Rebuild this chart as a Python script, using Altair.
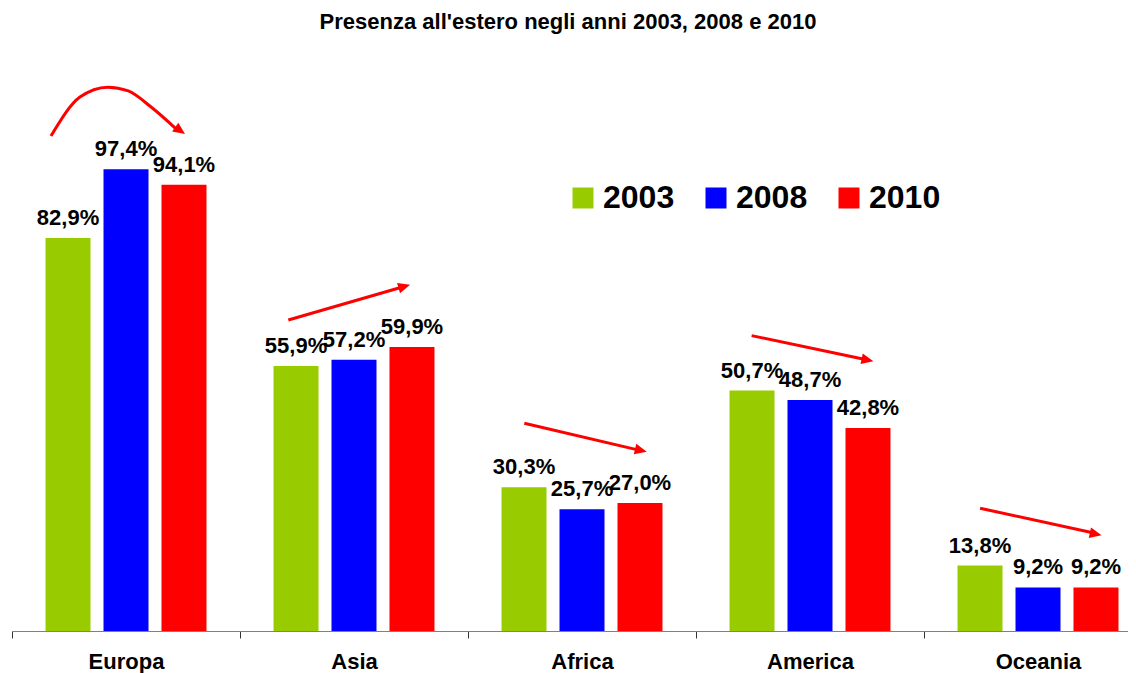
import altair as alt
import pandas as pd

# ---- data ----
categories = ["Europa", "Asia", "Africa", "America", "Oceania"]
years = ["2003", "2008", "2010"]
v2003 = [82.9, 55.9, 30.3, 50.7, 13.8]
v2008 = [97.4, 57.2, 25.7, 48.7, 9.2]
v2010 = [94.1, 59.9, 27.0, 42.8, 9.2]
colors = ["#99CC00", "#0000FF", "#FF0000"]

# trend arrows: position = category index + fraction of the group, value in %
arrow_ids = ["Europa", "Asia", "Africa", "America", "Oceania"]
arrow_line_pos = [
    [0.171, 0.298, 0.420, 0.510, 0.610, 0.724],
    [0.212, 0.716],
    [0.247, 0.754],
    [0.244, 0.748],
    [0.246, 0.750],
]
arrow_line_val = [
    [104.4, 112.6, 114.7, 113.9, 110.5, 105.7],
    [65.6, 72.6],
    [43.8, 38.1],
    [62.3, 57.2],
    [25.9, 20.6],
]
arrow_tip_pos = [0.759, 0.746, 0.784, 0.778, 0.779]
arrow_tip_val = [104.8, 73.0, 37.8, 56.9, 20.2]
arrow_tip_angle = [35, 344, 13, 12, 12]

FONT = "Liberation Sans"

# ---- tables ----
rows = []
for si, (yr, vals) in enumerate(zip(years, [v2003, v2008, v2010])):
    for ci, cat in enumerate(categories):
        rows.append({
            "cat": cat, "year": yr, "value": vals[ci],
            "label": f"{vals[ci]:.1f}".replace(".", ",") + "%",
        })
df = pd.DataFrame(rows)

line_rows = []
for ai, aid in enumerate(arrow_ids):
    for k, (p, v) in enumerate(zip(arrow_line_pos[ai], arrow_line_val[ai])):
        line_rows.append({"id": aid, "pos": ai + p, "value": v, "k": k})
df_lines = pd.DataFrame(line_rows)

df_heads = pd.DataFrame({
    "id": arrow_ids,
    "pos": [i + p for i, p in enumerate(arrow_tip_pos)],
    "value": arrow_tip_val,
    "angle": arrow_tip_angle,
})

xrange = [4, 1144]
yscale = alt.Scale(domain=[0, 120], nice=False)

x_axis = alt.Axis(
    title=None, labelAngle=0, labelFontSize=22, labelFontWeight="bold",
    labelColor="#000000", labelFont=FONT, domainColor="#808080", domainWidth=1,
    tickColor="#333333", tickSize=7, tickWidth=1, tickBand="extent",
    labelBaseline="alphabetic", labelPadding=30, grid=False,
)
x_enc = alt.X("cat:N", sort=categories,
              scale=alt.Scale(range=xrange, paddingInner=0, paddingOuter=0),
              axis=x_axis)
xoff = alt.XOffset("year:N", sort=years,
                   scale=alt.Scale(paddingInner=0.224, paddingOuter=0.578))

bars = alt.Chart(df).mark_bar().encode(
    x=x_enc,
    xOffset=xoff,
    y=alt.Y("value:Q", scale=yscale, axis=None),
    color=alt.Color(
        "year:N", sort=years,
        scale=alt.Scale(domain=years, range=colors),
        legend=alt.Legend(
            title=None, orient="none", legendX=559, legendY=120,
            direction="horizontal", symbolType="square", symbolSize=441,
            symbolStrokeWidth=0, symbolOpacity=1, labelFontSize=32,
            labelFont=FONT, labelFontWeight="bold", labelColor="#000000",
            labelOffset=4, columnPadding=25, padding=0,
        ),
    ),
)

labels = alt.Chart(df).mark_text(
    font=FONT, fontSize=22, fontWeight="bold", color="#000000",
    baseline="alphabetic", dy=-13,
).encode(
    x=x_enc,
    xOffset=xoff,
    y=alt.Y("value:Q", scale=yscale, axis=None),
    text="label:N",
)

xq = alt.X("pos:Q", scale=alt.Scale(domain=[0, 5], range=xrange, nice=False, zero=False), axis=None)

lines = alt.Chart(df_lines).mark_line(
    color="#FF0000", strokeWidth=3, interpolate="monotone"
).encode(
    x=xq,
    y=alt.Y("value:Q", scale=yscale, axis=None),
    detail="id:N",
    order="k:Q",
)

heads = alt.Chart(df_heads).mark_point(
    shape="M0,0L-1,-0.45L-1,0.45Z", filled=True, color="#FF0000",
    size=576, opacity=1, strokeWidth=0,
).encode(
    x=xq,
    y=alt.Y("value:Q", scale=yscale, axis=None),
    angle=alt.Angle("angle:Q", scale=None),
)

base = alt.layer(bars, labels)
arrows = alt.layer(lines, heads)

chart = alt.layer(base, arrows).resolve_scale(x="independent").properties(
    width=1120, height=569,
    padding={"left": 0, "right": 0, "top": 54, "bottom": 45},
    autosize=alt.AutoSizeParams(type="none"),
    title=alt.TitleParams(
        "Presenza all'estero negli anni 2003, 2008 e 2010",
        font=FONT, fontSize=22, fontWeight="bold", color="#000000",
        anchor="middle", frame="group", baseline="alphabetic", offset=11,
    ),
).configure(font=FONT, background="white").configure_view(stroke="transparent", strokeWidth=0)

chart.save("out.html", embed_options={"renderer": "svg", "actions": False})
